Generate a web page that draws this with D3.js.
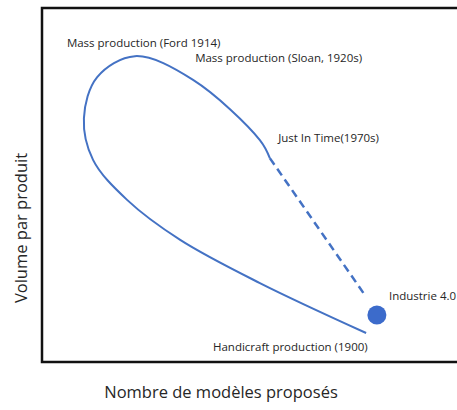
<!DOCTYPE html>
<html>
<head>
<meta charset="utf-8">
<script src="https://cdn.jsdelivr.net/npm/d3@7"></script>
<style>
  body { margin: 0; background: #fff; }
  text { font-family: "Open Sans", "Noto Sans", sans-serif; fill: #262626; }
</style>
</head>
<body>
<div id="chart"></div>
<script>
    // data, in arbitrary units (x = number of models, y = volume per product)
    var solidX = [78.1, 52.5, 33.3, 20.5, 12.3, 10.1, 13.3, 22.4, 36.4, 52.5, 54.9];
    var solidY = [8.2, 22.3, 34.5, 45.8, 57.1, 68.9, 80.5, 86.4, 79.7, 62.7, 57.6];
    var dashX = [54.9, 78.1];
    var dashY = [57.6, 18.4];
    var pointX = [80.7];
    var pointY = [13.3];
    var labelText = ["Mass production (Ford 1914)", "Mass production (Sloan, 1920s)", "Just In Time(1970s)", "Industrie 4.0", "Handicraft production (1900)"];
    var labelX = [6.0, 36.9, 56.9, 83.6, 41.2];
    var labelY = [90.2, 85.9, 63.3, 18.6, 4.2];

    var W = 457, H = 410;
    var margin = { top: 8, right: 0, bottom: 48, left: 42 };

    var svg = d3.select("#chart").append("svg")
        .attr("width", W)
        .attr("height", H);

    var x = d3.scaleLinear().domain([0, 100]).range([margin.left, W - margin.right]);
    var y = d3.scaleLinear().domain([0, 100]).range([H - margin.bottom, margin.top]);

    // frame (left, top, bottom only - right side goes off the picture)
    svg.append("path")
        .attr("d", "M" + (W + 5) + "," + y(100) + "H" + x(0) + "V" + y(0) + "H" + (W + 5))
        .attr("fill", "none")
        .attr("stroke", "#111")
        .attr("stroke-width", 2.5);

    var line = d3.line()
        .x(function (d) { return x(d[0]); })
        .y(function (d) { return y(d[1]); })
        .curve(d3.curveCatmullRom.alpha(0.5));

    var solid = solidX.map(function (v, i) { return [v, solidY[i]]; });
    var dashed = dashX.map(function (v, i) { return [v, dashY[i]]; });

    svg.append("path")
        .datum(solid)
        .attr("d", line)
        .attr("fill", "none")
        .attr("stroke", "#4472C4")
        .attr("stroke-width", 2);

    svg.append("path")
        .datum(dashed)
        .attr("d", d3.line().x(function (d) { return x(d[0]); }).y(function (d) { return y(d[1]); }))
        .attr("fill", "none")
        .attr("stroke", "#4472C4")
        .attr("stroke-width", 2.5)
        .attr("stroke-dasharray", "8,5");

    svg.selectAll(".pt")
        .data(pointX)
        .enter()
        .append("circle")
        .attr("cx", function (d) { return x(d); })
        .attr("cy", function (d, i) { return y(pointY[i]); })
        .attr("r", 9.5)
        .attr("fill", "#3C6BCB");

    svg.selectAll(".lbl")
        .data(labelText)
        .enter()
        .append("text")
        .attr("x", function (d, i) { return x(labelX[i]); })
        .attr("y", function (d, i) { return y(labelY[i]); })
        .attr("dy", "0.35em")
        .style("font-size", "11.5px")
        .text(function (d) { return d; });

    // axis titles
    svg.append("text")
        .attr("transform", "translate(21," + ((y(0) + y(100)) / 2 + 43) + ")rotate(-90)")
        .attr("text-anchor", "middle")
        .attr("dy", "0.35em")
        .style("font-size", "16.5px")
        .text("Volume par produit");

    svg.append("text")
        .attr("x", 221)
        .attr("y", 392)
        .attr("text-anchor", "middle")
        .attr("dy", "0.35em")
        .style("font-size", "16.5px")
        .text("Nombre de modèles proposés");
</script>
</body>
</html>
